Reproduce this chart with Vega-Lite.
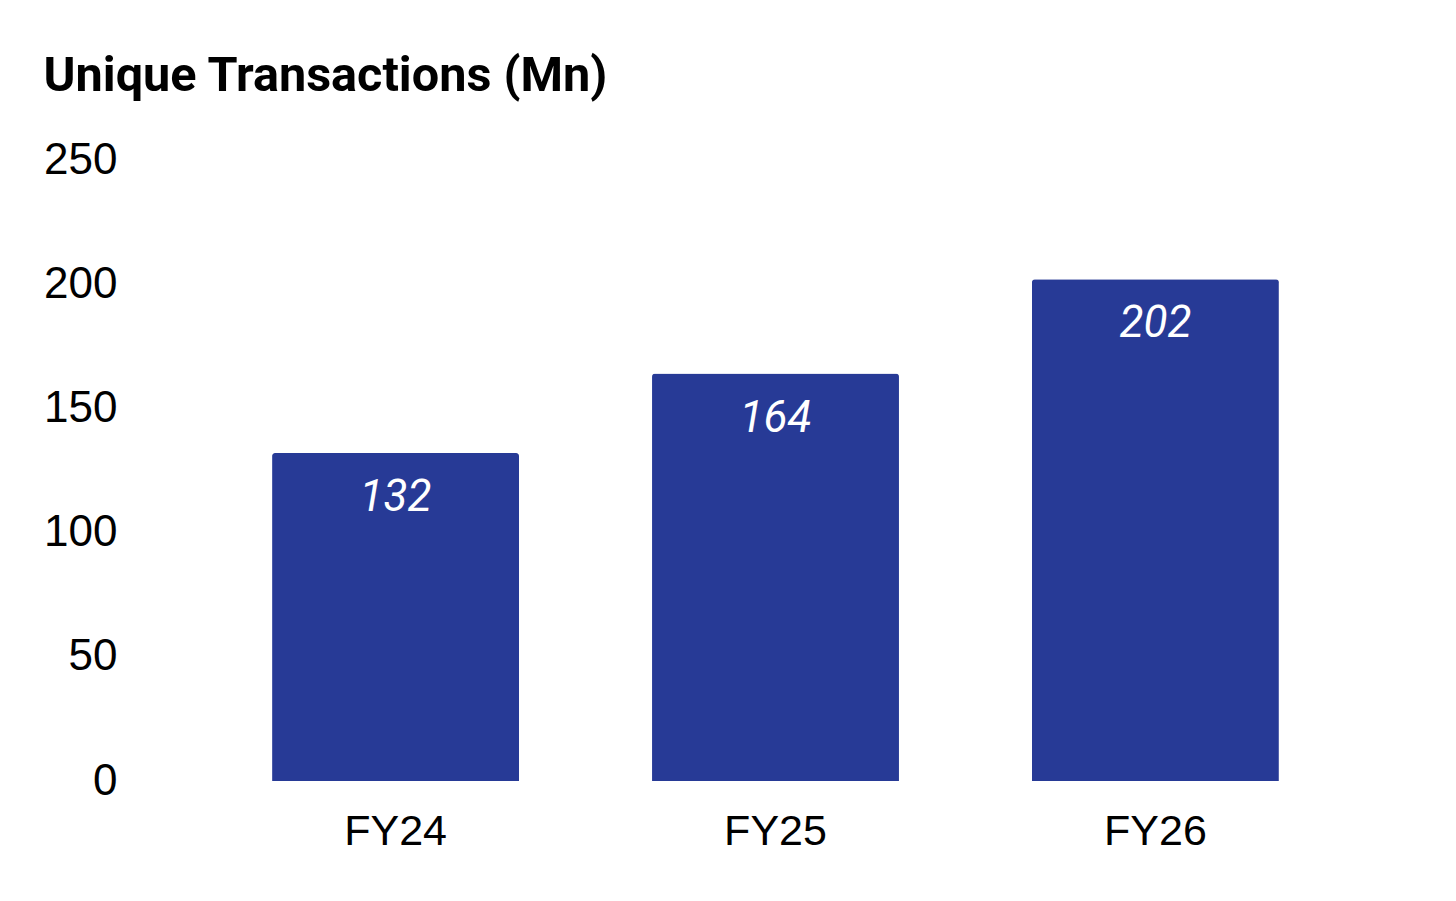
{
  "$schema": "https://vega.github.io/schema/vega-lite/v6.json",
  "autosize": "none",
  "width": 1291,
  "height": 621,
  "padding": {"left": 130, "top": 160, "right": 35, "bottom": 120},
  "background": "white",
  "title": {
    "text": "Unique Transactions (Mn)",
    "anchor": "start",
    "frame": "bounds",
    "font": "Roboto",
    "fontWeight": "bold",
    "fontSize": 48.6,
    "color": "black",
    "offset": 36
  },
  "data": {
    "values": [
      {"year": "FY24", "value": 132},
      {"year": "FY25", "value": 164},
      {"year": "FY26", "value": 202}
    ]
  },
  "config": {"view": {"stroke": null}},
  "encoding": {
    "x": {
      "field": "year",
      "type": "nominal",
      "sort": null,
      "scale": {"paddingInner": 0.35, "paddingOuter": 0.374},
      "axis": {
        "title": null,
        "domain": false,
        "ticks": false,
        "labelAngle": 0,
        "labelFont": "Liberation Sans",
        "labelFontSize": 43,
        "labelColor": "black",
        "labelPadding": 29
      }
    },
    "y": {
      "field": "value",
      "type": "quantitative",
      "scale": {"domain": [0, 250]},
      "axis": {
        "title": null,
        "domain": false,
        "ticks": false,
        "grid": false,
        "values": [0, 50, 100, 150, 200, 250],
        "labelFont": "Liberation Sans",
        "labelFontSize": 44,
        "labelColor": "black",
        "labelPadding": 13
      }
    }
  },
  "layer": [
    {
      "mark": {
        "type": "bar",
        "color": "#273A96",
        "cornerRadiusTopLeft": 3,
        "cornerRadiusTopRight": 3
      }
    },
    {
      "mark": {
        "type": "text",
        "font": "Roboto",
        "fontStyle": "italic",
        "fontSize": 44,
        "color": "white",
        "baseline": "middle",
        "dy": 45
      },
      "encoding": {"text": {"field": "value", "type": "quantitative"}}
    }
  ]
}
